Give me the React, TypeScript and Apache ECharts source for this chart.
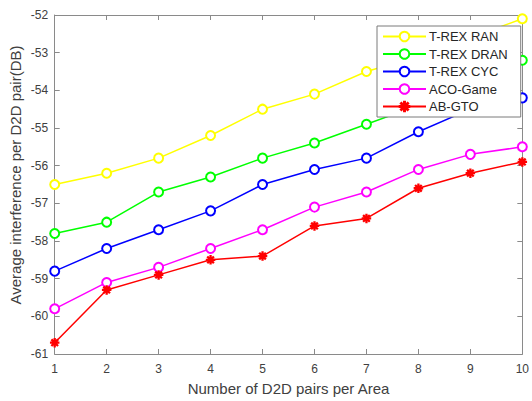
import React, { useEffect, useRef } from "react";
import * as echarts from "echarts";

const xValues = [1, 2, 3, 4, 5, 6, 7, 8, 9, 10];
const seriesNames = ["T-REX RAN", "T-REX DRAN", "T-REX CYC", "ACO-Game", "AB-GTO"];
const trexRan = [-56.5, -56.2, -55.8, -55.2, -54.5, -54.1, -53.5, -53.1, -52.6, -52.1];
const trexDran = [-57.8, -57.5, -56.7, -56.3, -55.8, -55.4, -54.9, -54.4, -53.8, -53.2];
const trexCyc = [-58.8, -58.2, -57.7, -57.2, -56.5, -56.1, -55.8, -55.1, -54.5, -54.2];
const acoGame = [-59.8, -59.1, -58.7, -58.2, -57.7, -57.1, -56.7, -56.1, -55.7, -55.5];
const abGto = [-60.7, -59.3, -58.9, -58.5, -58.4, -57.6, -57.4, -56.6, -56.2, -55.9];
const colors = ["#ffff00", "#00ff00", "#0000ff", "#ff00ff", "#ff0000"];

const ASTERISK =
  "path://M4.5,0 L5.5,0 L5.5,10 L4.5,10 Z M0,4.5 L10,4.5 L10,5.5 L0,5.5 Z M1.15,1.85 L1.85,1.15 L8.85,8.15 L8.15,8.85 Z M8.15,1.15 L8.85,1.85 L1.85,8.85 L1.15,8.15 Z";

const FONT = "'Liberation Sans', Arial, sans-serif";
const AXIS_COLOR = "#8a8a8a";
const TEXT_COLOR = "#404040";

export default function App() {
  const ref = useRef<HTMLDivElement>(null);
  useEffect(() => {
    if (!ref.current) return;
    const chart = echarts.init(ref.current, null, { renderer: "svg" });
    const allData = [trexRan, trexDran, trexCyc, acoGame, abGto];
    const axisCommon = {
      type: "value" as const,
      axisLine: { show: true, lineStyle: { color: AXIS_COLOR, width: 1 } },
      axisTick: { show: true, inside: true, length: 5, lineStyle: { color: AXIS_COLOR } },
      splitLine: { show: false },
    };
    chart.setOption({
      animation: false,
      backgroundColor: "#ffffff",
      textStyle: { fontFamily: FONT },
      grid: { left: 54.7, right: 9, top: 15, bottom: 45, containLabel: false },
      xAxis: [
        {
          ...axisCommon,
          position: "bottom",
          min: 1,
          max: 10,
          interval: 1,
          axisLabel: { color: TEXT_COLOR, fontSize: 12, margin: 9, fontFamily: FONT },
          name: "Number of D2D pairs per Area",
          nameLocation: "middle",
          nameGap: 27,
          nameTextStyle: { color: TEXT_COLOR, fontSize: 15, fontFamily: FONT },
        },
        {
          ...axisCommon,
          position: "top",
          min: 1,
          max: 10,
          interval: 1,
          axisLabel: { show: false },
        },
      ],
      yAxis: [
        {
          ...axisCommon,
          position: "left",
          min: -61,
          max: -52,
          interval: 1,
          axisLabel: { color: TEXT_COLOR, fontSize: 12, margin: 6.5, fontFamily: FONT },
        },
        {
          ...axisCommon,
          position: "right",
          min: -61,
          max: -52,
          interval: 1,
          axisLabel: { show: false },
        },
      ],
      graphic: [
        {
          type: "text",
          x: 15,
          y: 175,
          rotation: Math.PI / 2,
          style: {
            text: "Average interference per D2D pair(DB)",
            fill: TEXT_COLOR,
            font: `15px ${FONT}`,
            align: "center",
            verticalAlign: "middle",
          },
        },
      ],
      legend: {
        orient: "vertical",
        left: 377,
        top: 26,
        z: 20,
        itemWidth: 43,
        itemHeight: 12,
        itemGap: 4.5,
        padding: [4, 13, 4, 5],
        backgroundColor: "#ffffff",
        borderColor: "#7a7a7a",
        borderWidth: 1,
        borderRadius: 0,
        textStyle: { color: "#262626", fontSize: 13, fontFamily: FONT, padding: [0, 0, 0, -2] },
        data: seriesNames,
      },
      series: seriesNames.map((name, i) => ({
        name,
        type: "line",
        data: xValues.map((x, j) => [x, allData[i][j]]),
        symbol: i === 4 ? ASTERISK : "emptyCircle",
        symbolSize: i === 4 ? 8 : 9,
        clip: false,
        lineStyle: { color: colors[i], width: 1.5 },
        itemStyle: { color: colors[i], borderColor: colors[i], borderWidth: 1.5 },
        emphasis: { disabled: true },
        z: 2,
      })),
    });
    return () => chart.dispose();
  }, []);
  return (
    <div
      ref={ref}
      style={{ position: "absolute", left: 0, top: 0, width: 532, height: 401 }}
    />
  );
}
